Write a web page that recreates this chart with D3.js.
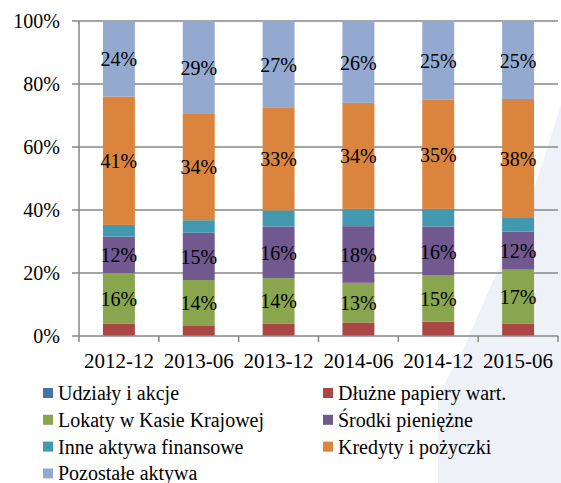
<!DOCTYPE html>
<html>
<head>
<meta charset="utf-8">
<script src="https://cdn.jsdelivr.net/npm/d3@7"></script>
<style>
  body { margin: 0; background: #fff; }
  svg { display: block; }
</style>
</head>
<body>
<div id="chart"></div>
<script>
// periods on the x axis
const periods = ["2012-12", "2013-06", "2013-12", "2014-06", "2014-12", "2015-06"];

// series names (stack order, bottom to top)
const seriesNames = [
  "Udziały i akcje", "Dłużne papiery wart.", "Lokaty w Kasie Krajowej",
  "Środki pieniężne", "Inne aktywa finansowe", "Kredyty i pożyczki", "Pozostałe aktywa"
];
const seriesColors = ["#4572A7", "#AA4643", "#89A54E", "#71588F", "#4198AF", "#DB843D", "#93A9CF"];

// shares in % per period
const udzialy  = [0.1, 0.1, 0.1, 0.1, 0.1, 0.1];
const dluzne   = [3.9, 3.3, 3.9, 4.2, 4.5, 3.9];
const lokaty   = [16.0, 14.4, 14.4, 12.6, 14.6, 17.1];
const srodki   = [11.6, 15.0, 16.4, 18.0, 15.6, 12.1];
const inne     = [3.7, 4.0, 5.1, 5.5, 5.6, 4.6];
const kredyty  = [40.8, 34.0, 32.8, 33.7, 34.8, 37.6];
const pozostale = [24.0, 29.3, 27.4, 26.0, 24.9, 24.8];

// which series get a value label
const labelled = ["Lokaty w Kasie Krajowej", "Środki pieniężne", "Kredyty i pożyczki", "Pozostałe aktywa"];

const yTicks = [0, 0.2, 0.4, 0.6, 0.8, 1];

const allSeries = [udzialy, dluzne, lokaty, srodki, inne, kredyty, pozostale];
const rows = periods.map((p, i) => {
  const r = { period: p };
  seriesNames.forEach((s, j) => r[s] = allSeries[j][i]);
  return r;
});

const W = 561, H = 483;
const margin = { top: 21, right: 3, bottom: 147, left: 79 };
const width = W - margin.left - margin.right;
const height = H - margin.top - margin.bottom;

const svg = d3.select("#chart").append("svg")
    .attr("width", W)
    .attr("height", H)
    .attr("font-family", "'Liberation Serif', 'Times New Roman', Times, FreeSerif, 'Nimbus Roman', 'Noto Serif', 'DejaVu Serif', serif");

// faint slide background on the right
svg.append("path")
    .attr("d", "M438,483 L438,395 L462,352 L537,180 L561,105 L561,483 Z")
    .attr("fill", "#eef2f8");

const g = svg.append("g")
    .attr("transform", `translate(${margin.left},${margin.top})`);

const x = d3.scaleBand()
    .domain(periods)
    .range([0, width])
    .paddingInner(0.6)
    .paddingOuter(0.3);

const xBand = d3.scaleBand()
    .domain(periods)
    .range([0, width]);

const y = d3.scaleLinear()
    .domain([0, 1])
    .range([height, 0]);

const color = d3.scaleOrdinal().domain(seriesNames).range(seriesColors);

// gridlines
g.append("g")
  .selectAll("line")
  .data(yTicks.slice(1))
  .join("line")
    .attr("x1", -7)
    .attr("x2", width)
    .attr("y1", d => y(d))
    .attr("y2", d => y(d))
    .attr("stroke", "#878787")
    .attr("stroke-width", 1.3);

// y labels
g.append("g")
  .selectAll("text")
  .data(yTicks)
  .join("text")
    .attr("x", -19)
    .attr("y", d => y(d))
    .attr("dy", "0.34em")
    .attr("text-anchor", "end")
    .attr("font-size", 20)
    .attr("fill", "#000")
    .text(d => d3.format(".0%")(d));

const stack = d3.stack()
    .keys(seriesNames)
    .offset(d3.stackOffsetExpand);
const stacked = stack(rows);

const layers = g.append("g")
  .selectAll("g")
  .data(stacked)
  .join("g")
    .attr("fill", d => color(d.key));

layers.selectAll("rect")
  .data(d => d)
  .join("rect")
    .attr("x", d => x(d.data.period))
    .attr("width", x.bandwidth())
    .attr("y", d => y(d[1]))
    .attr("height", d => y(d[0]) - y(d[1]));

// value labels
const lab = g.append("g");
stacked.filter(s => labelled.includes(s.key)).forEach(s => {
  lab.selectAll(null)
    .data(s)
    .join("text")
      .attr("x", d => x(d.data.period) + x.bandwidth() / 2)
      .attr("y", d => (y(d[0]) + y(d[1])) / 2)
      .attr("dy", "0.38em")
      .attr("text-anchor", "middle")
      .attr("font-size", 20)
      .attr("fill", "#000")
      .text(d => Math.round(d.data[s.key]) + "%");
});

// axes lines
g.append("line")
    .attr("x1", 0).attr("x2", 0)
    .attr("y1", 0).attr("y2", height)
    .attr("stroke", "#878787").attr("stroke-width", 1.5);

const xAxis = g.append("g")
    .attr("transform", `translate(0,${height})`);
xAxis.append("line")
    .attr("x1", -7).attr("x2", width)
    .attr("stroke", "#878787").attr("stroke-width", 1.5);
xAxis.selectAll(".tk")
  .data(periods.map(p => xBand(p)).concat([width]))
  .join("line")
    .attr("class", "tk")
    .attr("x1", d => d).attr("x2", d => d)
    .attr("y1", 0).attr("y2", 6)
    .attr("stroke", "#878787").attr("stroke-width", 1.5);
xAxis.selectAll("text")
  .data(periods)
  .join("text")
    .attr("x", d => xBand(d) + xBand.bandwidth() / 2)
    .attr("y", 32)
    .attr("text-anchor", "middle")
    .attr("font-size", 21)
    .attr("fill", "#000")
    .text(d => d);

// legend
const legend = svg.append("g");
const colX = [43, 323];
const items = legend.selectAll("g")
  .data(seriesNames)
  .join("g")
    .attr("transform", (d, i) => `translate(${colX[i % 2]},${400 + Math.floor(i / 2) * 26.8})`);
items.append("rect")
    .attr("x", 0)
    .attr("y", -12)
    .attr("width", 10)
    .attr("height", 10)
    .attr("fill", d => color(d));
items.append("text")
    .attr("x", 15)
    .attr("y", 0)
    .attr("font-size", 20)
    .attr("fill", "#000")
    .text(d => d);
</script>
</body>
</html>
